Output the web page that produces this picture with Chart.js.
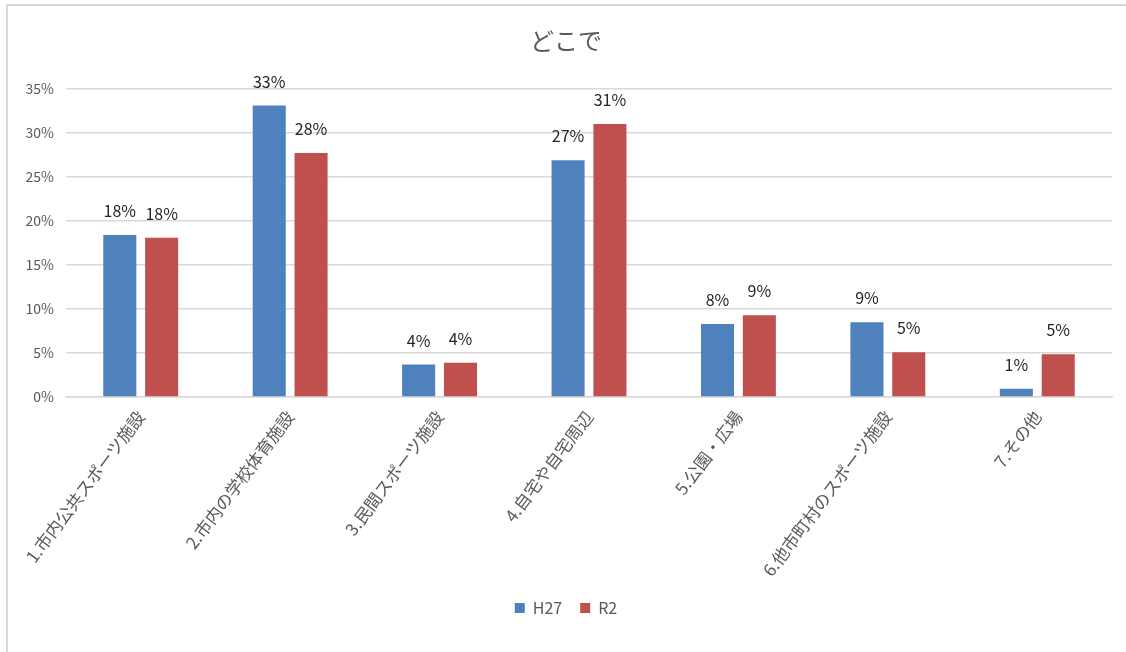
<!DOCTYPE html>
<html>
<head>
<meta charset="utf-8">
<script src="https://cdn.jsdelivr.net/npm/chart.js@4"></script>
<style>
  body { margin: 0; background: #fff; }
  #frame { position: absolute; left: 6px; top: 4px; width: 1130px; height: 660px; border: 2px solid #d9d9d9; }
  #wrap { position: absolute; left: 0; top: 0; width: 1126px; height: 652px; }
</style>
</head>
<body>
<div id="frame"></div>
<div id="wrap"><canvas id="myChart"></canvas></div>
<script>
const categories = ['1.市内公共スポーツ施設', '2.市内の学校体育施設', '3.民間スポーツ施設', '4.自宅や自宅周辺', '5.公園・広場', '6.他市町村のスポーツ施設', '7.その他']
const h27 = [18.4, 33.1, 3.7, 26.9, 8.3, 8.5, 0.95]
const r2 = [18.1, 27.7, 3.9, 31.0, 9.3, 5.1, 4.85]
const yTicks = [0, 5, 10, 15, 20, 25, 30, 35]

const fontFam = '"Liberation Sans Narrow", "Noto Sans CJK JP", sans-serif'

// draws the percent label above each bar
const barLabels = {
    id: 'barLabels',
    afterDatasetsDraw(chart) {
        const c = chart.ctx
        c.save()
        c.font = '16px ' + fontFam
        c.fillStyle = '#262626'
        c.textAlign = 'center'
        c.textBaseline = 'bottom'
        chart.data.datasets.forEach((ds, i) => {
            chart.getDatasetMeta(i).data.forEach((bar, j) => {
                c.fillText(Math.round(ds.data[j]) + '%', bar.x, bar.y - 16)
            })
        })
        c.restore()
    }
}

const ctx = document.getElementById('myChart')

new Chart(ctx, {
    type: 'bar',
    data: {
        labels: categories,
        datasets: [{
            label: 'H27',
            data: h27,
            backgroundColor: '#4f81bd',
            categoryPercentage: 0.56,
            barPercentage: 0.79
        }, {
            label: 'R2',
            data: r2,
            backgroundColor: '#c0504d',
            categoryPercentage: 0.56,
            barPercentage: 0.79
        }]
    },
    options: {
        responsive: true,
        maintainAspectRatio: false,
        animation: false,
        layout: { padding: { left: 20, right: 14, top: 8, bottom: 26 } },
        plugins: {
            title: {
                display: true,
                text: 'どこで',
                color: '#595959',
                font: { size: 24, family: fontFam, weight: 'normal' },
                padding: { top: 18, bottom: 34 }
            },
            legend: {
                position: 'bottom',
                labels: {
                    boxWidth: 10,
                    boxHeight: 10,
                    color: '#595959',
                    font: { size: 16, family: fontFam },
                    padding: 18
                }
            },
            tooltip: { enabled: false }
        },
        scales: {
            x: {
                grid: { display: false },
                border: { color: '#d9d9d9', width: 1.5 },
                ticks: {
                    minRotation: 53,
                    maxRotation: 53,
                    color: '#595959',
                    font: { size: 17, family: fontFam },
                    padding: 2
                }
            },
            y: {
                min: 0,
                max: 35,
                afterFit(scale) { scale.width = 46 },
                afterBuildTicks(scale) { scale.ticks = yTicks.map(v => ({ value: v })) },
                grid: { color: '#d9d9d9', lineWidth: 1.5, drawTicks: false },
                border: { display: false },
                ticks: {
                    color: '#595959',
                    font: { size: 14, family: fontFam },
                    padding: 12,
                    callback: v => v + '%'
                }
            }
        }
    },
    plugins: [barLabels]
});
</script>
</body>
</html>
